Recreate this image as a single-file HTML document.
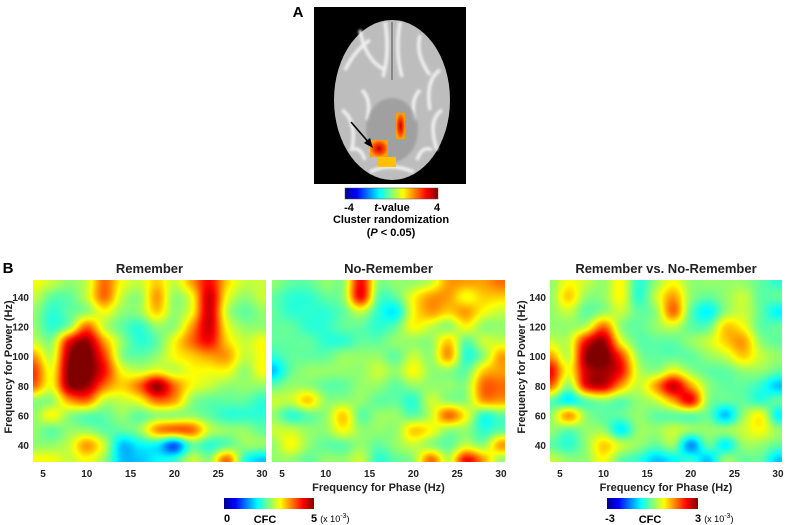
<!DOCTYPE html>
<html><head><meta charset="utf-8">
<style>
body{margin:0;background:#fff;font-family:"Liberation Sans",Arial,sans-serif;}
#root{position:relative;width:787px;height:525px;overflow:hidden;}
canvas{position:absolute;}
</style></head><body>
<div id="root">
<svg width="787" height="525" style="position:absolute;left:0;top:0">
 <defs>
  <linearGradient id="jet" x1="0" x2="1" y1="0" y2="0">
   <stop offset="0" stop-color="#00008f"/><stop offset="0.125" stop-color="#0000ff"/>
   <stop offset="0.375" stop-color="#00ffff"/><stop offset="0.625" stop-color="#ffff00"/>
   <stop offset="0.875" stop-color="#ff0000"/><stop offset="1" stop-color="#800000"/>
  </linearGradient>
  <radialGradient id="blob"><stop offset="0" stop-color="#c00000"/><stop offset="0.6" stop-color="#ff4000"/><stop offset="1" stop-color="#ffa000"/></radialGradient>
  <filter id="bl"><feGaussianBlur stdDeviation="1.2"/></filter>
 </defs>
 <text x="298" y="17" font-size="15" font-weight="bold" text-anchor="middle">A</text>
 <rect x="314" y="7" width="152" height="177" fill="#000"/>
 <g>
  <ellipse cx="392" cy="100" rx="58" ry="80" fill="#bdbdbd"/>
  <g filter="url(#bl)" fill="none" stroke="#f0f0f0" stroke-width="3.5">
   <path d="M345 70 q10 -20 25 -30 M360 30 q5 30 25 40 M385 22 q5 30 -2 55 M400 22 q-5 30 2 55 M420 35 q-5 20 10 40 M440 70 q-15 10 -10 40 M342 110 q15 10 10 40 M442 110 q-15 10 -5 40 M370 172 q20 -10 44 0 M362 90 q10 10 5 30 M420 90 q-10 10 -5 30 M350 150 q10 -5 15 10 M432 150 q-10 -5 -15 10"/>
  </g>
  <ellipse cx="392" cy="130" rx="26" ry="32" fill="#8e8e8e" opacity="0.6" filter="url(#bl)"/>
  <line x1="392" y1="22" x2="392" y2="80" stroke="#777" stroke-width="1.5"/>
 </g>
 <rect x="396" y="113" width="9" height="26" fill="url(#blob)"/>
 <rect x="370" y="140" width="18" height="17" fill="url(#blob)"/>
 <rect x="378" y="157" width="18" height="10" fill="#ffc000"/>
 <g>
  <line x1="351" y1="122" x2="370" y2="144" stroke="#000" stroke-width="1.6"/>
  <path d="M373 148 L364 143 L370 138 Z" fill="#000"/>
 </g>
 <rect x="345" y="188" width="93" height="11" fill="url(#jet)" stroke="#555" stroke-width="0.5"/>
 <text x="349" y="211" font-size="11" font-weight="bold" text-anchor="middle">-4</text>
 <text x="392" y="211" font-size="11" font-weight="bold" text-anchor="middle"><tspan font-style="italic">t</tspan>-value</text>
 <text x="437" y="211" font-size="11" font-weight="bold" text-anchor="middle">4</text>
 <text x="391" y="223" font-size="11" font-weight="bold" text-anchor="middle">Cluster randomization</text>
 <text x="391" y="236" font-size="11" font-weight="bold" text-anchor="middle">(<tspan font-style="italic">P</tspan> &lt; 0.05)</text>
 <text x="8" y="273" font-size="15" font-weight="bold" text-anchor="middle">B</text>

 <rect x="224" y="498" width="90" height="11" fill="url(#jet)"/>
 <text x="227" y="522" font-size="11" font-weight="bold" text-anchor="middle">0</text>
 <text x="265" y="523" font-size="11" font-weight="bold" text-anchor="middle">CFC</text>
 <text x="311" y="522" font-size="11" font-weight="bold">5 <tspan font-size="9" font-weight="normal">(x 10<tspan dy="-4" font-size="7">-3</tspan><tspan dy="4">)</tspan></tspan></text>
 <rect x="607" y="498" width="91" height="11" fill="url(#jet)"/>
 <text x="610" y="522" font-size="11" font-weight="bold" text-anchor="middle">-3</text>
 <text x="650" y="523" font-size="11" font-weight="bold" text-anchor="middle">CFC</text>
 <text x="695" y="522" font-size="11" font-weight="bold">3 <tspan font-size="9" font-weight="normal">(x 10<tspan dy="-4" font-size="7">-3</tspan><tspan dy="4">)</tspan></tspan></text>
 <g id="axes"></g>
</svg>
</div>
<script>
const xCats=[4,6,8,10,12,14,16,18,20,22,24,26,28,30];
const yCats=[150,140,130,120,110,100,90,80,70,60,50,40,30];
const xTicks=[5,10,15,20,25,30];
const yTicks=[140,120,100,80,60,40];
const titles=["Remember","No-Remember","Remember vs. No-Remember"];
const remember=[
[0.6,0.55,0.5,0.55,0.75,0.6,0.55,0.65,0.55,0.7,0.85,0.65,0.55,0.55],
[0.55,0.45,0.45,0.55,0.75,0.55,0.5,0.7,0.5,0.6,0.9,0.6,0.5,0.55],
[0.5,0.4,0.45,0.5,0.6,0.5,0.5,0.65,0.5,0.6,0.9,0.55,0.45,0.5],
[0.5,0.4,0.5,0.75,0.55,0.45,0.4,0.5,0.5,0.7,0.9,0.6,0.5,0.5],
[0.55,0.5,0.85,0.95,0.7,0.5,0.4,0.45,0.6,0.75,0.85,0.65,0.55,0.6],
[0.7,0.55,0.95,1.0,0.8,0.5,0.45,0.5,0.6,0.65,0.7,0.7,0.55,0.6],
[0.8,0.6,0.98,1.0,0.85,0.6,0.55,0.6,0.55,0.6,0.6,0.6,0.5,0.6],
[0.75,0.6,0.95,0.95,0.75,0.65,0.75,0.95,0.75,0.6,0.55,0.5,0.5,0.5],
[0.5,0.5,0.7,0.75,0.55,0.55,0.6,0.75,0.7,0.5,0.45,0.45,0.45,0.4],
[0.5,0.6,0.5,0.45,0.45,0.5,0.45,0.5,0.5,0.5,0.45,0.4,0.4,0.4],
[0.5,0.45,0.5,0.5,0.45,0.45,0.5,0.7,0.75,0.75,0.55,0.5,0.5,0.45],
[0.5,0.5,0.55,0.7,0.55,0.3,0.35,0.35,0.2,0.45,0.4,0.45,0.5,0.5],
[0.6,0.6,0.55,0.6,0.5,0.3,0.3,0.35,0.4,0.55,0.5,0.75,0.4,0.3]];
const noRemember=[
[0.5,0.45,0.45,0.5,0.5,0.85,0.5,0.5,0.5,0.55,0.7,0.7,0.7,0.75],
[0.45,0.4,0.4,0.45,0.5,0.85,0.45,0.45,0.6,0.7,0.7,0.6,0.65,0.65],
[0.45,0.4,0.4,0.4,0.45,0.55,0.4,0.35,0.6,0.7,0.65,0.7,0.6,0.55],
[0.45,0.45,0.4,0.4,0.45,0.45,0.4,0.45,0.6,0.55,0.5,0.6,0.5,0.5],
[0.45,0.45,0.45,0.4,0.4,0.45,0.45,0.5,0.5,0.5,0.65,0.45,0.55,0.55],
[0.4,0.45,0.45,0.45,0.5,0.5,0.5,0.45,0.55,0.5,0.7,0.4,0.5,0.7],
[0.3,0.45,0.5,0.5,0.5,0.5,0.55,0.5,0.6,0.5,0.5,0.45,0.65,0.7],
[0.45,0.5,0.5,0.45,0.45,0.5,0.5,0.45,0.5,0.5,0.5,0.5,0.75,0.75],
[0.55,0.55,0.65,0.5,0.5,0.5,0.45,0.45,0.4,0.55,0.5,0.5,0.7,0.7],
[0.5,0.4,0.45,0.5,0.65,0.45,0.5,0.5,0.45,0.55,0.75,0.6,0.4,0.45],
[0.55,0.55,0.5,0.5,0.6,0.5,0.5,0.5,0.65,0.6,0.5,0.5,0.4,0.45],
[0.5,0.6,0.5,0.45,0.45,0.5,0.45,0.5,0.55,0.5,0.45,0.55,0.5,0.7],
[0.5,0.5,0.45,0.5,0.5,0.55,0.4,0.45,0.5,0.75,0.55,0.85,0.7,0.5]];
const contrast=[
[0.5,0.6,0.55,0.5,0.6,0.4,0.5,0.6,0.5,0.5,0.5,0.5,0.45,0.4],
[0.5,0.65,0.5,0.5,0.6,0.4,0.55,0.7,0.5,0.45,0.5,0.55,0.45,0.45],
[0.5,0.55,0.45,0.5,0.55,0.45,0.5,0.75,0.45,0.35,0.5,0.55,0.45,0.35],
[0.5,0.5,0.55,0.75,0.5,0.45,0.5,0.55,0.45,0.45,0.65,0.6,0.45,0.45],
[0.55,0.55,0.85,0.95,0.6,0.45,0.45,0.45,0.5,0.55,0.65,0.7,0.5,0.45],
[0.7,0.55,0.95,1.0,0.8,0.5,0.45,0.45,0.45,0.5,0.55,0.65,0.55,0.5],
[0.85,0.6,0.9,0.95,0.85,0.55,0.5,0.6,0.5,0.45,0.45,0.5,0.5,0.45],
[0.75,0.5,0.85,0.9,0.7,0.55,0.7,0.9,0.7,0.5,0.45,0.45,0.4,0.3],
[0.45,0.35,0.45,0.5,0.45,0.5,0.55,0.7,0.85,0.5,0.45,0.45,0.4,0.45],
[0.5,0.7,0.5,0.45,0.45,0.5,0.45,0.45,0.45,0.45,0.3,0.5,0.6,0.35],
[0.5,0.45,0.5,0.5,0.35,0.5,0.5,0.55,0.5,0.5,0.5,0.55,0.6,0.5],
[0.45,0.4,0.5,0.65,0.55,0.5,0.45,0.5,0.25,0.45,0.35,0.5,0.5,0.45],
[0.55,0.5,0.5,0.6,0.45,0.4,0.3,0.35,0.4,0.3,0.5,0.45,0.45,0.3]];
const datasets=[remember,noRemember,contrast];
const panels=[{x0:33,x1:266,yTitle:true,ytx:12,xTitle:false},{x0:272,x1:505,yTitle:false,xTitle:true},{x0:550,x1:782,yTitle:true,ytx:525,xTitle:true}];
const PY0=280,PY1=462,XMIN=3.86,XMAX=30.46,YMIN=28.5,YMAX=151.5;
function jet(v){v=Math.max(0,Math.min(1,v));
 const f=(a)=>Math.max(0,Math.min(1,a));
 const r=f(Math.min(4*v-1.5,-4*v+4.5)),g=f(Math.min(4*v-0.5,-4*v+3.5)),b=f(Math.min(4*v+0.5,-4*v+2.5));
 return [r*255,g*255,b*255];}
function cr(p0,p1,p2,p3,t){return 0.5*((2*p1)+(-p0+p2)*t+(2*p0-5*p1+4*p2-p3)*t*t+(-p0+3*p1-3*p2+p3)*t*t*t);}
function sample(d,fx,fy){
 let cx=(fx-xCats[0])/(xCats[1]-xCats[0]);cx=Math.max(0,Math.min(xCats.length-1,cx));
 let cy=(yCats[0]-fy)/(yCats[0]-yCats[1]);cy=Math.max(0,Math.min(yCats.length-1,cy));
 const nx=xCats.length,ny=yCats.length;
 const i=Math.min(Math.floor(cx),nx-2),j=Math.min(Math.floor(cy),ny-2);
 const tx=cx-i,ty=cy-j;
 const g=(jj,ii)=>d[Math.max(0,Math.min(ny-1,jj))][Math.max(0,Math.min(nx-1,ii))];
 const rows=[];
 for(let m=-1;m<=2;m++)rows.push(cr(g(j+m,i-1),g(j+m,i),g(j+m,i+1),g(j+m,i+2),tx));
 return cr(rows[0],rows[1],rows[2],rows[3],ty);}
const root=document.getElementById('root');
const axes=document.getElementById('axes');
const NS='http://www.w3.org/2000/svg';
function txt(x,y,s,size,anchor,name,rot){const t=document.createElementNS(NS,'text');
 t.setAttribute('x',x);t.setAttribute('y',y);t.setAttribute('font-size',size);t.setAttribute('font-weight','bold');
 t.setAttribute('text-anchor',anchor);t.setAttribute('fill','#222');if(rot)t.setAttribute('transform',rot);
 t.textContent=s;
 
 
 axes.appendChild(t);return t;}
panels.forEach((p,k)=>{
 const W=p.x1-p.x0,H=PY1-PY0;
 const xs=v=>p.x0+(v-XMIN)/(XMAX-XMIN)*W;
 const ys=v=>PY0+(YMAX-v)/(YMAX-YMIN)*H;
 const cv=document.createElement('canvas');cv.width=W;cv.height=H;
 cv.style.left=p.x0+'px';cv.style.top=PY0+'px';
 
 
 const ctx=cv.getContext('2d');const img=ctx.createImageData(W,H);
 for(let y=0;y<H;y++)for(let x=0;x<W;x++){
  const fx=XMIN+(x+0.5)/W*(XMAX-XMIN),fy=YMAX-(y+0.5)/H*(YMAX-YMIN);
  const c=jet(sample(datasets[k],fx,fy)+0.02);const o=(y*W+x)*4;
  img.data[o]=c[0];img.data[o+1]=c[1];img.data[o+2]=c[2];img.data[o+3]=255;}
 ctx.putImageData(img,0,0);root.appendChild(cv);
 txt((p.x0+p.x1)/2,273,titles[k],13,'middle','title-'+(k+1));
 xTicks.forEach(v=>txt(xs(v),477,String(v),10,'middle','x-tick-'+(k+1)+'-'+v));
 if(p.yTitle){
  yTicks.forEach(v=>txt(p.x0-4,ys(v)+4,String(v),10,'end','y-tick-'+(k+1)+'-'+v));
  txt(p.ytx+4,(PY0+PY1)/2,'Frequency for Power (Hz)',11,'middle','y-axis-title-'+(k+1),'rotate(-90 '+(p.ytx)+' '+((PY0+PY1)/2)+')');
 }
 if(p.xTitle){txt(k==1?(p.x0+p.x1)/2-10:(p.x0+p.x1)/2,491,'Frequency for Phase (Hz)',11,'middle','x-axis-title-'+(k+1));}
});
</script>
</body></html>
